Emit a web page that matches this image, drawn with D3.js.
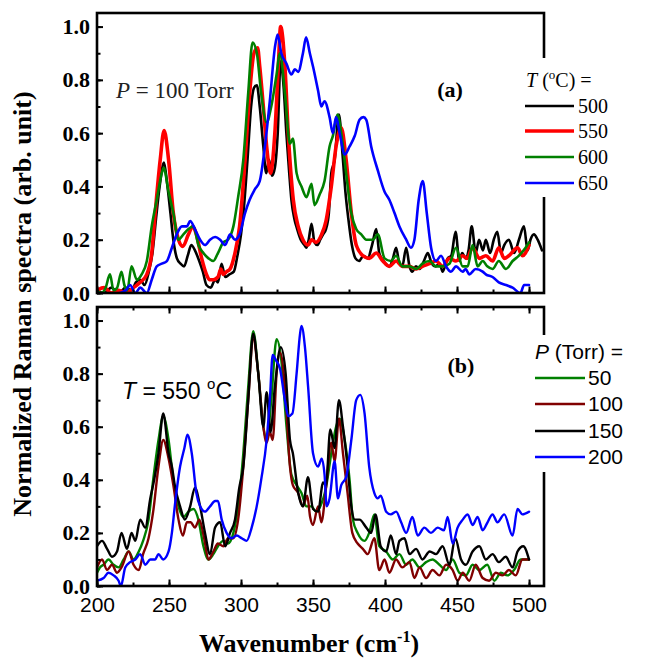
<!DOCTYPE html>
<html>
<head>
<meta charset="utf-8">
<script src="https://cdn.jsdelivr.net/npm/d3@7"></script>
<style>
  html, body { margin: 0; padding: 0; background: #fff; }
  svg { display: block; }
</style>
</head>
<body>
<svg id="chart" width="645" height="671"></svg>
<script>
// ---------------- DATA ----------------
const xTicks = [200, 250, 300, 350, 400, 450, 500];
const yTicks = [0, 0.2, 0.4, 0.6, 0.8, 1.0];

const legendA = ["500", "550", "600", "650"];
const legendB = ["50", "100", "150", "200"];

// Panel (a): P = 100 Torr, various T (°C)
const a500 = [[200,0.01],[205,0.0],[210,0.02],[215,0.0],[220,0.02],[224,0.01],[227,0.04],[230,0.05],[233,0.03],[236,0.08],[238.5,0.15],[241,0.28],[243.5,0.4],[246.5,0.49],[248.5,0.42],[251,0.3],[253,0.2],[255.5,0.13],[258,0.11],[260.5,0.1],[263,0.14],[265.5,0.18],[268,0.16],[271,0.12],[273.5,0.08],[276,0.03],[279,0.02],[282,0.05],[284,0.04],[286.5,0.11],[289,0.06],[292,0.07],[295,0.08],[297.5,0.14],[300,0.22],[302,0.32],[304.5,0.5],[307,0.7],[309,0.77],[311,0.78],[313,0.7],[315.5,0.55],[317.5,0.45],[319.5,0.5],[321.5,0.44],[323.5,0.47],[325.5,0.6],[327.5,0.87],[329.5,0.78],[331.5,0.6],[333.5,0.45],[335,0.35],[337,0.28],[339,0.24],[341.5,0.2],[344,0.18],[345.5,0.17],[347,0.2],[349,0.26],[351,0.19],[353,0.18],[355,0.2],[357,0.22],[359,0.24],[361,0.3],[362.7,0.45],[365,0.5],[368,0.67],[370.5,0.52],[372.5,0.38],[374.5,0.28],[377,0.18],[379.5,0.13],[382,0.12],[385,0.14],[388,0.13],[391,0.18],[393.9,0.24],[396,0.15],[399,0.12],[403,0.1],[405.5,0.13],[407.7,0.17],[410,0.11],[412,0.1],[414.7,0.17],[417,0.1],[419,0.08],[421.5,0.1],[424,0.09],[427,0.12],[429.7,0.15],[432.5,0.11],[435,0.1],[438,0.11],[440,0.08],[443.5,0.13],[446,0.14],[449,0.23],[451.6,0.12],[453.6,0.15],[456,0.13],[458,0.16],[460.2,0.25],[463,0.15],[465.3,0.2],[468,0.16],[470,0.2],[473,0.15],[475.5,0.2],[478,0.23],[480.5,0.15],[482.8,0.18],[486,0.2],[489.7,0.15],[493,0.2],[496.5,0.25],[499,0.16],[501,0.2],[503.4,0.22],[506,0.2],[509,0.16]];
const a550 = [[200,0.01],[205,0.02],[210,0.0],[215,0.01],[220,0.0],[225.4,0.02],[230,0.04],[234.6,0.07],[238,0.15],[240.4,0.3],[243.9,0.5],[246.6,0.61],[249.7,0.5],[253,0.3],[256.6,0.2],[259.6,0.175],[263.5,0.22],[266.5,0.25],[269,0.22],[272.7,0.13],[276,0.07],[278,0.05],[280.8,0.05],[284,0.06],[286,0.09],[287.7,0.07],[290,0.08],[292.4,0.09],[295.8,0.15],[299,0.25],[302.8,0.5],[306,0.75],[309,0.9],[311.5,0.92],[313,0.85],[315.5,0.7],[317.8,0.55],[320.5,0.45],[323.5,0.6],[325.9,0.85],[327.5,1.0],[330.5,0.85],[332.8,0.6],[336.3,0.35],[339.7,0.25],[343,0.2],[346.6,0.18],[349,0.2],[352,0.19],[356,0.22],[359,0.27],[362.7,0.4],[366,0.55],[369.6,0.62],[373,0.5],[376.6,0.3],[380,0.18],[384.6,0.14],[389,0.13],[393.9,0.15],[398.5,0.12],[403,0.1],[407.7,0.12],[412,0.1],[417,0.1],[421.6,0.09],[426,0.1],[430.8,0.11],[435.4,0.12],[440,0.1],[444.7,0.13],[449.3,0.12],[453.9,0.14],[457,0.13],[460.8,0.17],[465.5,0.13],[470,0.14],[474.7,0.12],[479,0.17],[482.8,0.13],[486,0.14],[492,0.17],[495.5,0.14],[500,0.18]];
const a600 = [[200,0.01],[203,0.0],[206,0.02],[209,0.07],[211.5,0.01],[214,0.02],[217,0.08],[219,0.03],[221,0.01],[224,0.1],[227.7,0.05],[231,0.07],[234.6,0.12],[238,0.25],[241.5,0.35],[245,0.45],[246.3,0.47],[249.7,0.38],[253,0.3],[256.6,0.2],[260,0.22],[263.5,0.24],[267,0.25],[270.4,0.18],[273.9,0.15],[277.4,0.13],[280.8,0.12],[284,0.15],[287.7,0.19],[291,0.2],[294.7,0.25],[298,0.36],[301.6,0.5],[305,0.75],[308,0.94],[311,0.9],[314,0.75],[317.8,0.64],[321,0.7],[324.7,0.82],[327,0.9],[330.5,0.75],[334,0.56],[336,0.58],[338.6,0.45],[342,0.4],[345.5,0.36],[349,0.41],[351,0.33],[354.6,0.37],[358,0.42],[361.5,0.55],[363.8,0.59],[367,0.67],[369.6,0.6],[373,0.45],[376.6,0.3],[380,0.24],[383.5,0.22],[387,0.2],[391.6,0.2],[395,0.22],[399.7,0.13],[404,0.12],[407.7,0.14],[412,0.1],[417,0.1],[421.6,0.09],[426,0.11],[430.8,0.12],[435.4,0.1],[440,0.1],[444.7,0.11],[449.3,0.17],[453.9,0.1],[457.4,0.1],[460.8,0.18],[464.3,0.1],[467.8,0.12],[471,0.1],[474.7,0.09],[479,0.12],[484,0.09],[488.6,0.12],[493,0.14],[497.6,0.17],[500,0.19]];
const a650 = [[200,-0.02],[210,-0.02],[216,0.0],[220,0.01],[223,0.03],[226.6,0.0],[230,0.02],[234.6,0.0],[238,0.05],[241.5,0.1],[245,0.11],[248.5,0.12],[252,0.17],[255.4,0.22],[259,0.25],[262.4,0.25],[264.7,0.27],[268,0.24],[271.6,0.2],[275,0.18],[278.5,0.2],[282,0.21],[285.5,0.2],[289,0.18],[292.4,0.22],[295.8,0.2],[299,0.22],[302.8,0.3],[306,0.35],[309.7,0.39],[313,0.42],[316.6,0.55],[320,0.72],[323.5,0.92],[325.4,0.97],[328,0.9],[331.6,0.86],[335,0.82],[337.4,0.84],[339.7,0.83],[343,0.9],[345.2,0.96],[347.8,0.9],[350,0.85],[353.5,0.76],[355.8,0.7],[358,0.72],[361.5,0.66],[363.8,0.6],[366,0.66],[368.5,0.6],[372,0.52],[375.4,0.55],[379,0.59],[382.3,0.65],[385,0.66],[387,0.65],[390.4,0.55],[395,0.46],[399.7,0.38],[403,0.35],[406.6,0.3],[410,0.25],[414.7,0.2],[418,0.17],[420.4,0.2],[423.4,0.35],[426.2,0.42],[429,0.3],[432,0.17],[435.4,0.12],[438.9,0.14],[442.4,0.1],[445.8,0.08],[449.3,0.1],[453.9,0.08],[456,0.09],[458.5,0.07],[463,0.09],[467.8,0.08],[470,0.07],[474.7,0.06],[479,0.04],[484,0.03],[488.6,0.02],[494,0.0],[496.6,0.03],[500,0.03]];

// Panel (b): T = 550 °C, various P (Torr)
const b50 = [[200,0.05],[202,0.07],[204.6,0.08],[208,0.1],[211.5,0.08],[215,0.07],[218.5,0.1],[222,0.13],[225.4,0.1],[229,0.13],[232,0.17],[235.8,0.25],[239,0.4],[242.7,0.55],[246,0.64],[249.7,0.55],[253,0.4],[256.6,0.3],[260,0.26],[263.5,0.28],[267,0.29],[270.4,0.25],[273.9,0.15],[277.4,0.1],[280.8,0.12],[284,0.15],[287.7,0.17],[291,0.16],[294.7,0.2],[298,0.3],[301.6,0.5],[305,0.75],[308.5,0.96],[312,0.8],[315.5,0.6],[317.8,0.55],[321,0.7],[324.7,0.93],[328,0.85],[331.6,0.6],[335,0.42],[338.6,0.38],[342,0.35],[345.5,0.3],[349,0.3],[352,0.28],[355,0.3],[359,0.37],[362.7,0.5],[366,0.6],[368.5,0.63],[372,0.55],[375.4,0.4],[377.7,0.25],[381,0.2],[385.8,0.17],[389,0.2],[392.6,0.27],[396,0.15],[400.8,0.13],[405.4,0.1],[410,0.12],[414.7,0.08],[419,0.1],[423.9,0.07],[428.5,0.09],[433,0.1],[437.8,0.08],[442.4,0.06],[447,0.1],[451.6,0.05],[456.2,0.04],[460.8,0.08],[465.5,0.06],[471,0.08],[475.9,0.02],[480.5,0.05],[485,0.04],[489.6,0.06],[494.2,0.1],[500,0.1]];
const b100 = [[200,0.07],[203.5,0.1],[207,0.06],[210.4,0.08],[213.9,0.05],[217,0.07],[222,0.13],[225.4,0.08],[229,0.06],[232,0.12],[235.8,0.18],[239,0.28],[242.7,0.45],[246,0.55],[249.7,0.48],[253,0.38],[256.6,0.25],[259.6,0.19],[262.4,0.24],[265,0.24],[268,0.22],[271,0.25],[274.4,0.18],[277.4,0.1],[280.8,0.13],[284,0.16],[287.7,0.15],[291,0.18],[294.7,0.18],[298,0.25],[301.6,0.45],[305,0.7],[308.5,0.93],[312,0.8],[315.5,0.6],[317.8,0.54],[320,0.58],[322,0.55],[324.7,0.8],[327,0.88],[330.5,0.75],[334,0.45],[336,0.38],[339.7,0.35],[343,0.3],[346,0.34],[348,0.26],[350,0.23],[353.5,0.3],[355.8,0.24],[359,0.37],[362.7,0.54],[365,0.47],[368,0.63],[370.8,0.5],[374,0.35],[377.3,0.2],[381,0.16],[384.6,0.14],[388,0.12],[392.6,0.18],[396,0.06],[399.7,0.1],[403,0.05],[407.7,0.1],[412,0.07],[417,0.09],[420.4,0.03],[424,0.07],[428.5,0.03],[433,0.06],[437.8,0.04],[442.4,0.08],[447,0.06],[450.4,0.02],[454,0.05],[458.5,0.02],[463,0.08],[467.8,0.03],[472.3,0.02],[477,0.05],[481.6,0.04],[486,0.06],[490.8,0.04],[495.4,0.1],[500,0.1]];
const b150 = [[200,0.15],[203.5,0.17],[207,0.14],[210.4,0.11],[213.9,0.13],[217,0.2],[220.8,0.14],[224,0.2],[226.6,0.17],[230,0.25],[233.5,0.22],[237,0.33],[239.7,0.4],[242.7,0.5],[246,0.65],[249.7,0.5],[252,0.45],[254,0.38],[257.7,0.3],[261,0.25],[264.7,0.3],[268,0.37],[271.6,0.3],[275,0.2],[278.5,0.12],[282,0.22],[285.5,0.24],[289,0.15],[292.4,0.2],[295.8,0.25],[298.8,0.37],[301.6,0.45],[305,0.7],[308.5,0.95],[312,0.8],[315.5,0.6],[317.8,0.73],[320.5,0.58],[323.5,0.75],[327.6,0.9],[331,0.8],[334,0.55],[336,0.5],[339.7,0.35],[343,0.3],[346.5,0.41],[350,0.29],[353.5,0.28],[357,0.39],[359,0.38],[362,0.59],[365,0.52],[368,0.7],[370.8,0.6],[374,0.45],[376.6,0.3],[379,0.25],[382.3,0.25],[387,0.22],[390.4,0.2],[393.4,0.27],[397,0.15],[400.8,0.13],[404,0.19],[407.7,0.12],[410,0.17],[413.5,0.18],[417,0.12],[421.6,0.14],[426,0.1],[431,0.13],[435.4,0.12],[440,0.15],[444.7,0.08],[448.8,0.18],[452.8,0.1],[456.2,0.08],[460.8,0.13],[465.5,0.15],[470,0.1],[474.7,0.12],[479,0.09],[483.8,0.11],[488.6,0.07],[492,0.13],[496,0.15],[500,0.1]];
const b200 = [[200,0.02],[204.6,0.03],[208,0.05],[211.5,0.04],[215,0.02],[216.6,0.0],[219.6,0.07],[223,0.09],[226.6,0.1],[230,0.12],[233.5,0.08],[237,0.1],[240.4,0.1],[242.7,0.12],[246,0.1],[249.7,0.13],[252,0.2],[254,0.3],[257.7,0.45],[260.7,0.52],[262.8,0.57],[265.8,0.5],[269,0.35],[271.6,0.3],[275,0.28],[278.5,0.3],[282,0.32],[284,0.32],[286.6,0.25],[290,0.2],[293.5,0.18],[297,0.19],[300.5,0.18],[303.9,0.17],[307.4,0.22],[310.9,0.3],[314,0.4],[317.8,0.55],[320,0.7],[322,0.87],[324.3,0.85],[327,0.82],[330.5,0.7],[332.8,0.64],[335.7,0.65],[338.6,0.8],[341,0.95],[342,0.98],[344.4,0.9],[346.6,0.75],[350,0.5],[353.5,0.45],[356,0.48],[358,0.42],[359.5,0.3],[361.5,0.33],[365,0.47],[367.3,0.33],[369.6,0.38],[373,0.41],[376.6,0.55],[380,0.7],[382.8,0.72],[385.8,0.65],[389,0.45],[392.6,0.35],[395,0.33],[397,0.34],[400.8,0.28],[404,0.27],[407.7,0.28],[411.2,0.24],[414.7,0.2],[419,0.26],[422.7,0.19],[427.3,0.22],[431.9,0.2],[436.6,0.22],[441,0.21],[443.5,0.26],[447,0.16],[450.4,0.22],[454,0.25],[457.4,0.27],[460.8,0.23],[464.3,0.26],[467.8,0.21],[471.2,0.24],[474.7,0.27],[478,0.24],[482.8,0.27],[488.6,0.19],[492,0.29],[495.4,0.27],[500,0.28]];

// ---------------- DRAW ----------------
const svg = d3.select("#chart");
const left = 97, right = 544;
const x = d3.scaleLinear().domain([200, 510.4]).range([left, right]);

const panels = [
  { id: "a", top: 13, bottom: 293, series: [a500, a550, a600, a650],
    colors: ["#000000", "#ff0000", "#008000", "#0000ff"], widths: [2.6, 3.6, 2.6, 2.6],
    legend: legendA, showX: false },
  { id: "b", top: 307, bottom: 586, series: [b50, b100, b150, b200],
    colors: ["#008000", "#800000", "#000000", "#0000ff"], widths: [2.4, 2.4, 2.4, 2.4],
    legend: legendB, showX: true }
];

const minorX = d3.range(200, 510, 25);
const minorY = d3.range(0, 1.01, 0.1);

panels.forEach(p => {
  const y = d3.scaleLinear().domain([0, 1]).range([p.bottom, p.bottom - (p.bottom - p.top) / 1.051]);
  const g = svg.append("g");

  g.append("clipPath").attr("id", "clip" + p.id)
    .append("rect").attr("x", left).attr("y", p.top).attr("width", right - left).attr("height", p.bottom - p.top);

  const line = d3.line().x(d => x(d[0])).y(d => y(d[1])).curve(d3.curveMonotoneX);
  const lg = g.append("g").attr("clip-path", "url(#clip" + p.id + ")");
  p.series.forEach((s, i) => {
    lg.append("path").datum(s).attr("d", line)
      .attr("fill", "none").attr("stroke", p.colors[i]).attr("stroke-width", p.widths[i])
      .attr("stroke-linejoin", "round").attr("stroke-linecap", "round");
  });

  // left axis: major with labels, minor without
  const yAxis = d3.axisLeft(y).tickValues(yTicks).tickSize(-6).tickPadding(7).tickFormat(d3.format(".1f"));
  const yAxisG = g.append("g").attr("transform", `translate(${left},0)`).call(yAxis);
  yAxisG.select(".domain").remove();
  yAxisG.selectAll("text").attr("font-family", "'Liberation Serif', 'Times New Roman', serif")
    .attr("font-weight", "bold").attr("font-size", 22).attr("fill", "#000");
  yAxisG.selectAll("line").attr("stroke", "#000").attr("stroke-width", 2);
  const yMinor = g.append("g").attr("transform", `translate(${left},0)`)
    .call(d3.axisLeft(y).tickValues(minorY).tickSize(-3.5).tickFormat(""));
  yMinor.select(".domain").remove();
  yMinor.selectAll("line").attr("stroke", "#000").attr("stroke-width", 2);

  // bottom axis (ticks inward)
  const xb = g.append("g").attr("transform", `translate(0,${p.bottom})`)
    .call(d3.axisBottom(x).tickValues(xTicks).tickSize(-6.5).tickPadding(11).tickFormat(p.showX ? d3.format("d") : ""));
  xb.select(".domain").remove();
  xb.selectAll("line").attr("stroke", "#000").attr("stroke-width", 2);
  xb.selectAll("text").attr("font-family", "'Liberation Sans', Arial, sans-serif").attr("font-size", 21).attr("fill", "#000");
  const xbm = g.append("g").attr("transform", `translate(0,${p.bottom})`)
    .call(d3.axisBottom(x).tickValues(minorX).tickSize(-3.5).tickFormat(""));
  xbm.select(".domain").remove();
  xbm.selectAll("line").attr("stroke", "#000").attr("stroke-width", 2);

  if (p.id === "b") {
    const xt = g.append("g").attr("transform", `translate(0,${p.top})`)
      .call(d3.axisTop(x).tickValues(xTicks).tickSize(-6.5).tickFormat(""));
    xt.select(".domain").remove();
    xt.selectAll("line").attr("stroke", "#000").attr("stroke-width", 2);
    const xtm = g.append("g").attr("transform", `translate(0,${p.top})`)
      .call(d3.axisTop(x).tickValues(minorX).tickSize(-3.5).tickFormat(""));
    xtm.select(".domain").remove();
    xtm.selectAll("line").attr("stroke", "#000").attr("stroke-width", 2);
  }

  // frame
  g.append("rect").attr("x", left).attr("y", p.top).attr("width", right - left).attr("height", p.bottom - p.top)
    .attr("fill", "none").attr("stroke", "#000").attr("stroke-width", 2.6);
});

// ---------- Legends & annotations ----------
const serif = "'Liberation Serif', 'Times New Roman', serif";
const sans = "'Liberation Sans', Arial, sans-serif";

// Legend (a)
{
  const g = svg.append("g");
  g.append("rect").attr("x", 518).attr("y", 58).attr("width", 90).attr("height", 139).attr("fill", "#fff");
  const t = g.append("text").attr("x", 526).attr("y", 87).attr("font-family", serif).attr("font-size", 20).attr("fill", "#000");
  t.append("tspan").attr("font-style", "italic").text("T");
  t.append("tspan").text(" (");
  t.append("tspan").attr("font-size", 13).attr("dy", -8).text("o");
  t.append("tspan").attr("dy", 8).text("C) =");
  const ys = [106, 131, 157, 183];
  const p = panels[0];
  legendA.forEach((lab, i) => {
    g.append("line").attr("x1", 525).attr("x2", 574).attr("y1", ys[i]).attr("y2", ys[i])
      .attr("stroke", p.colors[i]).attr("stroke-width", p.widths[i]);
    g.append("text").attr("x", 578).attr("y", ys[i] + 7).attr("font-family", serif).attr("font-size", 20)
      .attr("fill", "#000").text(lab);
  });
}

// Legend (b)
{
  const g = svg.append("g");
  g.append("rect").attr("x", 528).attr("y", 335).attr("width", 110).attr("height", 137).attr("fill", "#fff");
  const t = g.append("text").attr("x", 535).attr("y", 359).attr("font-family", sans).attr("font-size", 21).attr("fill", "#000");
  t.append("tspan").attr("font-style", "italic").text("P");
  t.append("tspan").text(" (Torr) =");
  const ys = [378, 404, 431, 457];
  const p = panels[1];
  legendB.forEach((lab, i) => {
    g.append("line").attr("x1", 535).attr("x2", 585).attr("y1", ys[i]).attr("y2", ys[i])
      .attr("stroke", p.colors[i]).attr("stroke-width", p.widths[i]);
    g.append("text").attr("x", 588).attr("y", ys[i] + 7).attr("font-family", sans).attr("font-size", 21)
      .attr("fill", "#000").text(lab);
  });
}

// Panel annotations
{
  const t1 = svg.append("text").attr("x", 116).attr("y", 98).attr("font-family", serif).attr("font-size", 23).attr("fill", "#222");
  t1.append("tspan").attr("font-style", "italic").text("P");
  t1.append("tspan").text(" = 100 Torr");

  svg.append("text").attr("x", 450).attr("y", 97).attr("text-anchor", "middle").attr("font-family", serif)
    .attr("font-weight", "bold").attr("font-size", 22).attr("fill", "#000").text("(a)");

  const t2 = svg.append("text").attr("x", 122).attr("y", 399).attr("font-family", sans).attr("font-size", 23).attr("fill", "#000");
  t2.append("tspan").attr("font-style", "italic").text("T");
  t2.append("tspan").text(" = 550 ");
  t2.append("tspan").attr("font-size", 15).attr("dy", -10).text("o");
  t2.append("tspan").attr("dy", 10).text("C");

  svg.append("text").attr("x", 461).attr("y", 373).attr("text-anchor", "middle").attr("font-family", serif)
    .attr("font-weight", "bold").attr("font-size", 22).attr("fill", "#000").text("(b)");
}

// Axis titles
{
  const xt = svg.append("text").attr("x", 309).attr("y", 652).attr("text-anchor", "middle")
    .attr("font-family", serif).attr("font-weight", "bold").attr("font-size", 26).attr("fill", "#000");
  xt.append("tspan").text("Wavenumber (cm");
  xt.append("tspan").attr("font-size", 16).attr("dy", -10).text("-1");
  xt.append("tspan").attr("dy", 10).text(")");

  svg.append("text").attr("transform", "translate(31,304) rotate(-90)").attr("text-anchor", "middle")
    .attr("font-family", serif).attr("font-weight", "bold").attr("font-size", 26).attr("fill", "#000")
    .text("Normalized Raman spectra (arb. unit)");
}
</script>
</body>
</html>
